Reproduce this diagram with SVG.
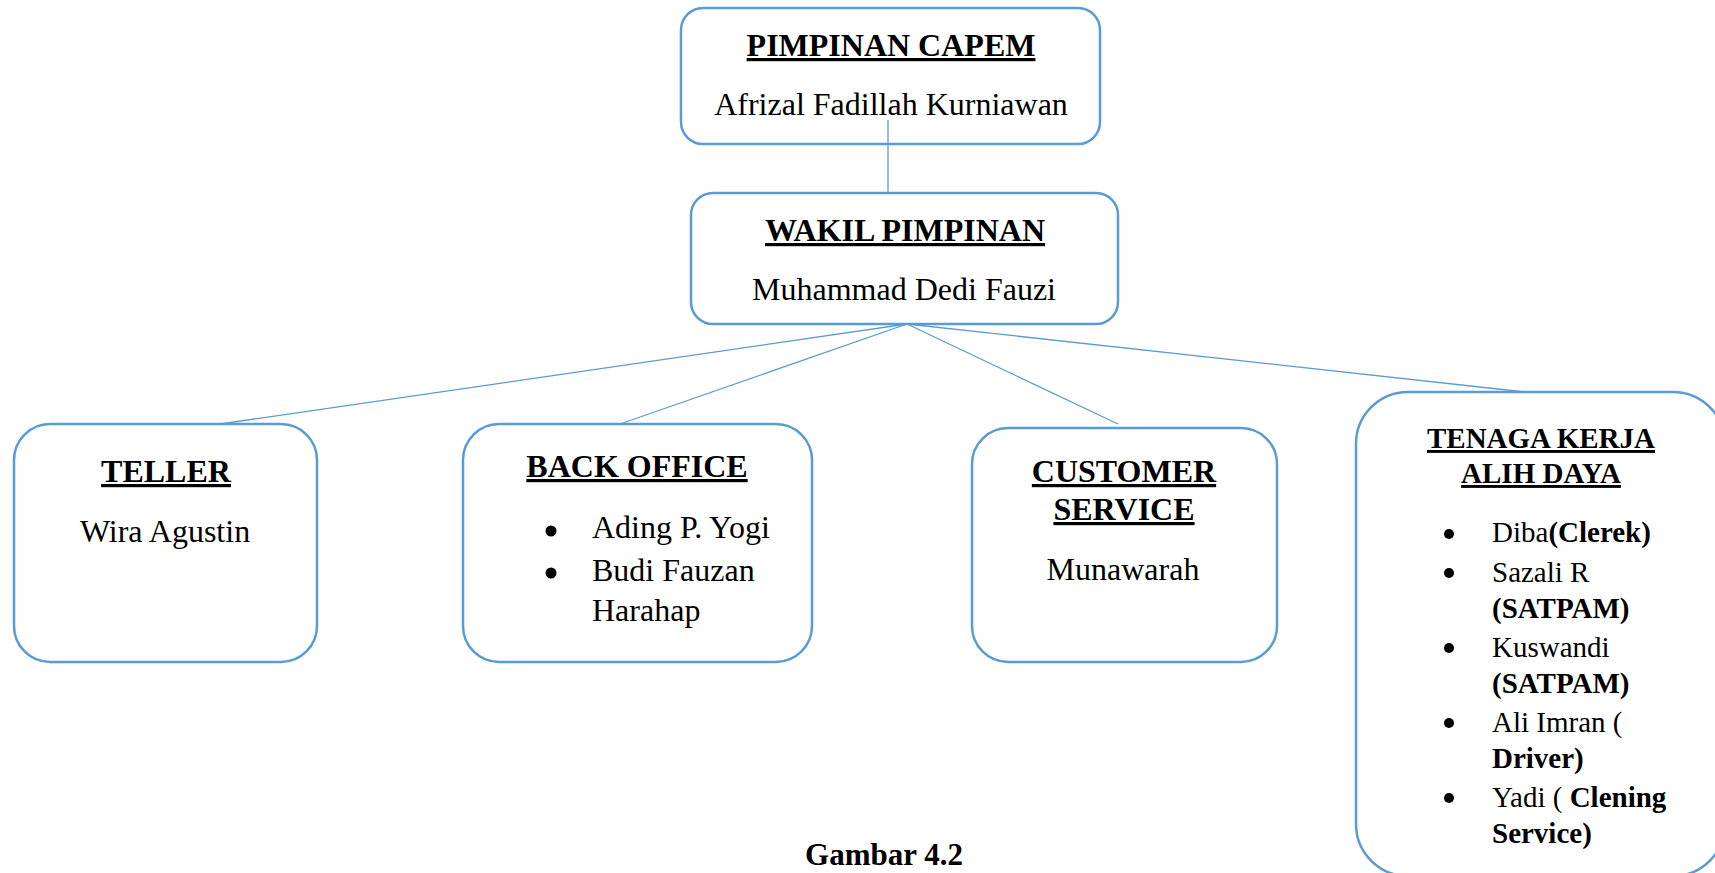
<svg xmlns="http://www.w3.org/2000/svg" width="1715" height="873" viewBox="0 0 1715 873">
<style>
.box{fill:#fff;stroke:#5B9BD5;stroke-width:2.5}
.con line{stroke:#5B9BD5;stroke-width:1.3}
.dot{fill:#000}
text{font-family:"Liberation Serif","Times New Roman",serif;fill:#000}
.t{font-size:32px;font-weight:bold;text-decoration:underline;text-anchor:middle}
.n{font-size:32px;text-anchor:middle}
.l{font-size:32px}
.s{font-size:29px}
.b{font-weight:bold}
.bt{font-weight:bold;text-decoration:underline;text-anchor:middle;font-size:29px}
</style>
<rect width="1715" height="873" fill="#fff"/>
<g id="pimpinan">
<rect class="box" x="681" y="8" width="419" height="136" rx="22"/>
<text class="t" x="891" y="56">PIMPINAN CAPEM</text>
<text class="n" x="891" y="115">Afrizal Fadillah Kurniawan</text>
</g>
<g id="wakil">
<rect class="box" x="691" y="193" width="427" height="131" rx="22"/>
<text class="t" x="905" y="241">WAKIL PIMPINAN</text>
<text class="n" x="904" y="300">Muhammad Dedi Fauzi</text>
</g>
<g id="teller">
<rect class="box" x="14" y="424" width="303" height="238" rx="36"/>
<text class="t" x="166" y="482">TELLER</text>
<text class="n" x="165" y="542">Wira Agustin</text>
</g>
<g id="backoffice">
<rect class="box" x="463" y="424" width="349" height="238" rx="36"/>
<text class="t" x="637" y="477">BACK OFFICE</text>
<circle class="dot" cx="551" cy="531" r="5.5"/>
<text class="l" x="592" y="538">Ading P. Yogi</text>
<circle class="dot" cx="551" cy="573" r="5.5"/>
<text class="l" x="592" y="581">Budi Fauzan</text>
<text class="l" x="592" y="621">Harahap</text>
</g>
<g id="cs">
<rect class="box" x="972" y="428" width="305" height="234" rx="36"/>
<text class="t" x="1124" y="482">CUSTOMER</text>
<text class="t" x="1124" y="520">SERVICE</text>
<text class="n" x="1123" y="580">Munawarah</text>
</g>
<g id="tenaga">
<rect class="box" x="1356" y="392" width="369" height="484" rx="52"/>
<text class="bt" x="1541" y="448">TENAGA KERJA</text>
<text class="bt" x="1541" y="483">ALIH DAYA</text>
<circle class="dot" cx="1449" cy="534" r="5"/>
<text class="s" x="1492" y="542">Diba<tspan class="b">(Clerek)</tspan></text>
<circle class="dot" cx="1449" cy="573" r="5"/>
<text class="s" x="1492" y="582">Sazali R</text>
<text class="s b" x="1492" y="618">(SATPAM)</text>
<circle class="dot" cx="1449" cy="648" r="5"/>
<text class="s" x="1492" y="657">Kuswandi</text>
<text class="s b" x="1492" y="693">(SATPAM)</text>
<circle class="dot" cx="1449" cy="723" r="5"/>
<text class="s" x="1492" y="732">Ali Imran (</text>
<text class="s b" x="1492" y="768">Driver)</text>
<circle class="dot" cx="1449" cy="798" r="5"/>
<text class="s" x="1492" y="807">Yadi ( <tspan class="b">Clening</tspan></text>
<text class="s b" x="1492" y="843">Service)</text>
</g>
<g id="connectors" class="con">
<line x1="888" y1="120" x2="888" y2="193"/>
<line x1="907" y1="324" x2="220" y2="424"/>
<line x1="907" y1="324" x2="620" y2="424"/>
<line x1="907" y1="324" x2="1118" y2="424"/>
<line x1="907" y1="324" x2="1525" y2="392"/>
</g>
<text x="884" y="865" font-size="31" font-weight="bold" text-anchor="middle">Gambar 4.2</text>
</svg>
